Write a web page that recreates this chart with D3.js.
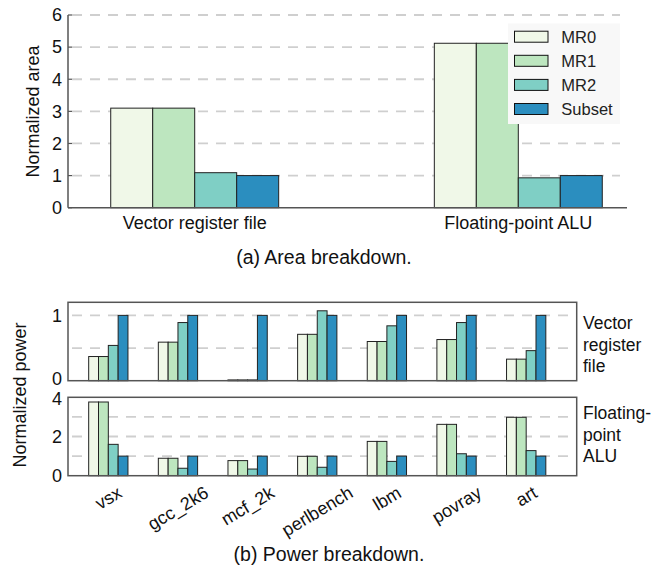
<!DOCTYPE html>
<html>
<head>
<meta charset="utf-8">
<script src="https://cdn.jsdelivr.net/npm/d3@7"></script>
<style>
  html, body { margin: 0; padding: 0; background: #fff; }
  svg { display: block; font-family: "Liberation Sans", Arial, Helvetica, sans-serif; }
</style>
</head>
<body>
<svg id="chart" width="652" height="569"></svg>
<script>
// ---------- data ----------
const seriesNames = ["MR0", "MR1", "MR2", "Subset"];
const seriesColors = ["#f0f8e8", "#bde6bf", "#7fcfc5", "#2b8ebf"];

const areaCategories = ["Vector register file", "Floating-point ALU"];
const areaMR0 = [3.10, 5.12];
const areaMR1 = [3.10, 5.12];
const areaMR2 = [1.09, 0.93];
const areaSubset = [1.00, 1.00];
const areaTicks = [0, 1, 2, 3, 4, 5, 6];

const benchmarks = ["vsx", "gcc_2k6", "mcf_2k", "perlbench", "lbm", "povray", "art"];
const vrfMR0 = [0.37, 0.59, 0.012, 0.71, 0.60, 0.63, 0.33];
const vrfMR1 = [0.37, 0.59, 0.012, 0.71, 0.60, 0.63, 0.33];
const vrfMR2 = [0.54, 0.89, 0.012, 1.07, 0.84, 0.89, 0.46];
const vrfSubset = [1, 1, 1, 1, 1, 1, 1];
const vrfTicks = [0, 1];
const vrfGrid = [0.5, 1];

const fpuMR0 = [3.76, 0.89, 0.77, 0.99, 1.75, 2.62, 2.98];
const fpuMR1 = [3.76, 0.89, 0.77, 0.99, 1.75, 2.62, 2.98];
const fpuMR2 = [1.60, 0.38, 0.34, 0.43, 0.73, 1.12, 1.28];
const fpuSubset = [1, 1, 1, 1, 1, 1, 1];
const fpuTicks = [0, 2, 4];
const fpuGrid = [1, 2, 3];

// ---------- setup ----------
const svg = d3.select("#chart");
const FONT = 18;
const axisColor = "#555";
const gridColor = "#cfcfcf";
const barStroke = "#222";

svg.append("rect").attr("width", 652).attr("height", 569).attr("fill", "#fff");

// ================= (a) Area breakdown =================
const areaData = areaCategories.map((c, i) => ({
  cat: c, vals: [areaMR0[i], areaMR1[i], areaMR2[i], areaSubset[i]]
}));

const ax = d3.scaleBand().domain(areaCategories).range([32.9, 680.1])
  .paddingInner(0.481).paddingOuter(0.2405);
const axInner = d3.scaleBand().domain(seriesNames).range([0, ax.bandwidth()]);
const ay = d3.scaleLinear().domain([0, 6]).range([207.7, 15]);

const gA = svg.append("g");
// grid
gA.selectAll("line.grid").data(areaTicks.filter(t => t > 0)).join("line")
  .attr("x1", 72).attr("x2", 620)
  .attr("y1", d => ay(d)).attr("y2", d => ay(d))
  .attr("stroke", gridColor).attr("stroke-width", 1.8).attr("stroke-dasharray", "10,8");

// bars
areaData.forEach(d => {
  gA.append("g").attr("transform", `translate(${ax(d.cat)},0)`)
    .selectAll("rect").data(d.vals).join("rect")
    .attr("x", (v, j) => axInner(seriesNames[j]))
    .attr("width", axInner.bandwidth())
    .attr("y", v => ay(v))
    .attr("height", v => ay(0) - ay(v))
    .attr("fill", (v, j) => seriesColors[j])
    .attr("stroke", barStroke).attr("stroke-width", 1);
});

// axes lines
gA.append("line").attr("x1", 68).attr("x2", 68).attr("y1", ay(6)).attr("y2", ay(0))
  .attr("stroke", axisColor).attr("stroke-width", 1.5);
gA.append("line").attr("x1", 68).attr("x2", 627).attr("y1", ay(0)).attr("y2", ay(0))
  .attr("stroke", axisColor).attr("stroke-width", 1.5);
// ticks
gA.selectAll("line.tk").data(areaTicks).join("line")
  .attr("x1", 68).attr("x2", 72).attr("y1", d => ay(d)).attr("y2", d => ay(d))
  .attr("stroke", axisColor).attr("stroke-width", 1.2);
gA.selectAll("text.tl").data(areaTicks).join("text")
  .attr("x", 62).attr("y", d => ay(d)).attr("dy", "0.35em")
  .attr("text-anchor", "end").attr("font-size", FONT).attr("fill", "#111")
  .text(d => d);
// category labels
gA.selectAll("text.cl").data(areaCategories).join("text")
  .attr("x", d => ax(d) + ax.bandwidth() / 2).attr("y", 229)
  .attr("text-anchor", "middle").attr("font-size", FONT).attr("fill", "#111")
  .text(d => d);
// y label
gA.append("text").attr("transform", "translate(39,111.5) rotate(-90)")
  .attr("text-anchor", "middle").attr("font-size", FONT).attr("fill", "#111")
  .text("Normalized area");

// legend
const leg = gA.append("g");
leg.append("rect").attr("x", 508).attr("y", 23.5).attr("width", 112).attr("height", 100.5)
  .attr("fill", "#f8f8f8");
seriesNames.forEach((s, j) => {
  const cy = 36.7 + j * 24.1;
  leg.append("rect").attr("x", 514.5).attr("y", cy - 5.5).attr("width", 33.5).attr("height", 11)
    .attr("fill", seriesColors[j]).attr("stroke", "#111").attr("stroke-width", 1);
  leg.append("text").attr("x", 561.3).attr("y", cy).attr("dy", "0.36em")
    .attr("font-size", 16.5).attr("fill", "#222").text(s);
});

// caption a
svg.append("text").attr("x", 324).attr("y", 264).attr("text-anchor", "middle")
  .attr("font-size", 19.5).attr("fill", "#111").text("(a) Area breakdown.");

// ================= (b) Power breakdown =================
const bx = d3.scaleBand().domain(benchmarks).range([73.5, 561])
  .paddingInner(0.436).paddingOuter(0.218);
const bxInner = d3.scaleBand().domain(seriesNames).range([0, bx.bandwidth()]);
const boxLeft = 68, boxRight = 576.7;

function panel(yScale, series, ticks, grid, tickDy) {
  const g = svg.append("g");
  const [y0, y1] = yScale.range();
  g.append("rect").attr("x", boxLeft).attr("y", y1).attr("width", boxRight - boxLeft)
    .attr("height", y0 - y1).attr("fill", "#fff");
  g.selectAll("line.grid").data(grid).join("line")
    .attr("x1", boxLeft + 4).attr("x2", boxRight - 4)
    .attr("y1", d => yScale(d)).attr("y2", d => yScale(d))
    .attr("stroke", gridColor).attr("stroke-width", 1.8).attr("stroke-dasharray", "10,8");
  benchmarks.forEach((b, i) => {
    const vals = series.map(s => s[i]);
    g.append("g").attr("transform", `translate(${bx(b)},0)`)
      .selectAll("rect").data(vals).join("rect")
      .attr("x", (v, j) => bxInner(seriesNames[j]))
      .attr("width", bxInner.bandwidth())
      .attr("y", v => yScale(v))
      .attr("height", v => yScale(0) - yScale(v))
      .attr("fill", (v, j) => seriesColors[j])
      .attr("stroke", barStroke).attr("stroke-width", 1);
  });
  g.append("rect").attr("x", boxLeft).attr("y", y1).attr("width", boxRight - boxLeft)
    .attr("height", y0 - y1).attr("fill", "none").attr("stroke", axisColor).attr("stroke-width", 1.5);
  g.selectAll("text.tl").data(ticks).join("text")
    .attr("x", 62).attr("y", d => yScale(d) + tickDy(d)).attr("dy", "0.35em")
    .attr("text-anchor", "end").attr("font-size", FONT).attr("fill", "#111")
    .text(d => d);
  return g;
}

const yVrf = d3.scaleLinear().domain([0, 1.2]).range([380.7, 302.3]);
const yFpu = d3.scaleLinear().domain([0, 4]).range([475.7, 397.3]);
panel(yVrf, [vrfMR0, vrfMR1, vrfMR2, vrfSubset], vrfTicks, vrfGrid, d => (d === 0 ? -2 : 0));
panel(yFpu, [fpuMR0, fpuMR1, fpuMR2, fpuSubset], fpuTicks, fpuGrid, d => (d === 4 ? 1 : 0));

// right side labels
const rLabels = [
  { lines: ["Vector", "register", "file"], y: 329 },
  { lines: ["Floating-", "point", "ALU"], y: 419 }
];
rLabels.forEach(r => {
  const t = svg.append("text").attr("x", 583).attr("y", r.y)
    .attr("font-size", 17.5).attr("fill", "#111");
  r.lines.forEach((l, k) => t.append("tspan").attr("x", 583).attr("dy", k === 0 ? 0 : 21.5).text(l));
});

// x labels, rotated
const ang = 31, rad = ang * Math.PI / 180;
const lblTop = 485;
benchmarks.forEach(b => {
  const t = svg.append("text").attr("text-anchor", "middle").attr("dy", "0.35em")
    .attr("font-size", FONT).attr("fill", "#111").text(b);
  const w = t.node().getComputedTextLength();
  const h = FONT * 0.75;
  const halfH = (w * Math.sin(rad) + h * Math.cos(rad)) / 2;
  const cx = bx(b) + bx.bandwidth() / 2;
  t.attr("transform", `translate(${cx},${lblTop + halfH}) rotate(${-ang})`);
});

// y label
svg.append("text").attr("transform", "translate(26,395) rotate(-90)")
  .attr("text-anchor", "middle").attr("font-size", FONT).attr("fill", "#111")
  .text("Normalized power");

// caption b
svg.append("text").attr("x", 329).attr("y", 561).attr("text-anchor", "middle")
  .attr("font-size", 19.5).attr("fill", "#111").text("(b) Power breakdown.");
</script>
</body>
</html>
